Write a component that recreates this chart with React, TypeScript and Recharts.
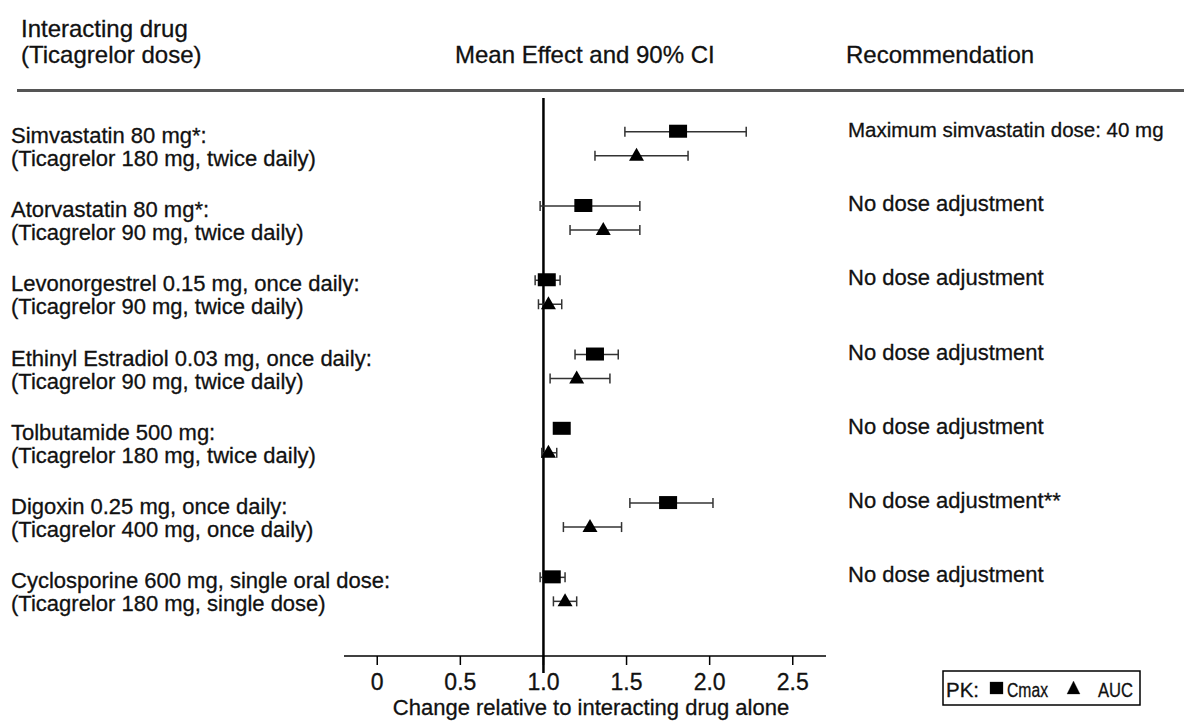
import React from "react";
import { ScatterChart, Scatter, XAxis, YAxis, ErrorBar, ReferenceLine } from "recharts";

const FONT = "'Liberation Sans', Arial, Helvetica, sans-serif";
const INK = "#111";

const drugs = [
  "Simvastatin 80 mg*:",
  "Atorvastatin 80 mg*:",
  "Levonorgestrel 0.15 mg, once daily:",
  "Ethinyl Estradiol 0.03 mg, once daily:",
  "Tolbutamide 500 mg:",
  "Digoxin 0.25 mg, once daily:",
  "Cyclosporine 600 mg, single oral dose:",
];
const doses = [
  "(Ticagrelor 180 mg, twice daily)",
  "(Ticagrelor 90 mg, twice daily)",
  "(Ticagrelor 90 mg, twice daily)",
  "(Ticagrelor 90 mg, twice daily)",
  "(Ticagrelor 180 mg, twice daily)",
  "(Ticagrelor 400 mg, once daily)",
  "(Ticagrelor 180 mg, single dose)",
];
const advice = [
  "Maximum simvastatin dose: 40 mg",
  "No dose adjustment",
  "No dose adjustment",
  "No dose adjustment",
  "No dose adjustment",
  "No dose adjustment**",
  "No dose adjustment",
];

const cmaxMean = [1.81, 1.24, 1.02, 1.31, 1.11, 1.75, 1.05];
const cmaxLo = [1.49, 0.98, 0.95, 1.19, 1.07, 1.52, 0.98];
const cmaxHi = [2.22, 1.58, 1.10, 1.45, 1.15, 2.02, 1.13];
const aucMean = [1.56, 1.36, 1.03, 1.20, 1.03, 1.28, 1.13];
const aucLo = [1.31, 1.16, 0.97, 1.04, 0.99, 1.12, 1.06];
const aucHi = [1.87, 1.58, 1.11, 1.40, 1.08, 1.47, 1.20];

const xTicks = [0, 0.5, 1, 1.5, 2, 2.5];
const xTickLabels = ["0", "0.5", "1.0", "1.5", "2.0", "2.5"];

// AUC sits a little below Cmax inside each row
const AUC_OFFSET = 0.323;
const rows = drugs.map((_, i) => i);

const cmaxData = rows.map((i) => ({
  x: cmaxMean[i],
  y: i,
  ci: [cmaxMean[i] - cmaxLo[i], cmaxHi[i] - cmaxMean[i]],
}));
const aucData = rows.map((i) => ({
  x: aucMean[i],
  y: i + AUC_OFFSET,
  ci: [aucMean[i] - aucLo[i], aucHi[i] - aucMean[i]],
}));

const Square = (p: any) => <rect x={p.cx - 9} y={p.cy - 7} width={18} height={13} fill="#000" />;
const Triangle = (p: any) => (
  <polygon points={`${p.cx},${p.cy - 8} ${p.cx - 7.5},${p.cy + 5} ${p.cx + 7.5},${p.cy + 5}`} fill="#000" />
);

const RowTick = (props: any) => {
  const { y, payload } = props;
  const i = payload.value;
  // the simvastatin advice is the only long one; keep it inside the frame
  const long = advice[i].length > 25;
  return (
    <g fontFamily={FONT} fontSize={22} fill={INK} stroke={INK} strokeWidth={0.3}>
      <text x={11} y={y + 11}>{drugs[i]}</text>
      <text x={11} y={y + 34}>{doses[i]}</text>
      <text x={848} y={y + 5} fontSize={long ? 20.5 : 22}>
        {advice[i]}
      </text>
    </g>
  );
};

const RefLine = (p: any) => {
  const top = Math.min(p.y1, p.y2);
  const bottom = Math.max(p.y1, p.y2);
  return <line x1={p.x1} x2={p.x2} y1={top} y2={bottom + 17} stroke="#000" strokeWidth={2.5} />;
};

export default function App() {
  return (
    <div style={{ position: "absolute", left: 0, top: 0, width: 1184, height: 727, background: "#fff" }}>
      <ScatterChart width={1184} height={727} margin={{ top: 98, right: 358, bottom: 41, left: 0 }}>
        <XAxis
          type="number"
          dataKey="x"
          domain={[-0.2, 2.7]}
          allowDataOverflow
          ticks={xTicks}
          interval={0}
          height={30}
          tickSize={9}
          tickMargin={9}
          tickFormatter={(v: number) => xTickLabels[xTicks.indexOf(v)]}
          tick={{ fontSize: 23, fill: INK, stroke: INK, strokeWidth: 0.3, fontFamily: FONT }}
          stroke="#000"
          strokeWidth={1.5}
        />
        <YAxis
          type="number"
          dataKey="y"
          domain={[-0.454, 7.059]}
          reversed
          allowDataOverflow
          ticks={rows}
          interval={0}
          width={344}
          axisLine={false}
          tickLine={false}
          tick={<RowTick />}
        />
        <ReferenceLine x={1} shape={<RefLine />} />
        <Scatter name="Cmax" data={cmaxData} shape={<Square />} isAnimationActive={false}>
          <ErrorBar dataKey="ci" direction="x" width={5} stroke="#333" strokeWidth={1.5} isAnimationActive={false} />
        </Scatter>
        <Scatter name="AUC" data={aucData} shape={<Triangle />} isAnimationActive={false}>
          <ErrorBar dataKey="ci" direction="x" width={5} stroke="#333" strokeWidth={1.5} isAnimationActive={false} />
        </Scatter>
      </ScatterChart>
      <svg
        width={1184}
        height={727}
        style={{ position: "absolute", left: 0, top: 0, pointerEvents: "none" }}
        fontFamily={FONT}
      >
        <g fontSize={24} fill={INK} stroke={INK} strokeWidth={0.3}>
          <text x={21} y={37}>Interacting drug</text>
          <text x={21} y={63}>(Ticagrelor dose)</text>
          <text x={455} y={63}>Mean Effect and 90% CI</text>
          <text x={846} y={63}>Recommendation</text>
        </g>
        <line x1={17} x2={1184} y1={90.5} y2={90.5} stroke="#555" strokeWidth={3} />
        <text x={591} y={715} fontSize={22} fill={INK} stroke={INK} strokeWidth={0.3} textAnchor="middle">
          Change relative to interacting drug alone
        </text>
        <rect x={943} y={671} width={197} height={34} fill="none" stroke="#000" strokeWidth={1.5} />
        <g fontSize={20} fill={INK} stroke={INK} strokeWidth={0.3}>
          <text x={946} y={697} textLength={33} lengthAdjust="spacingAndGlyphs">PK:</text>
          <rect x={990} y={682} width={13} height={12} fill="#000" />
          <text x={1007} y={697} textLength={41} lengthAdjust="spacingAndGlyphs">Cmax</text>
          <polygon points="1073.5,681 1067,694 1080,694" fill="#000" />
          <text x={1098} y={697} textLength={35} lengthAdjust="spacingAndGlyphs">AUC</text>
        </g>
      </svg>
    </div>
  );
}
